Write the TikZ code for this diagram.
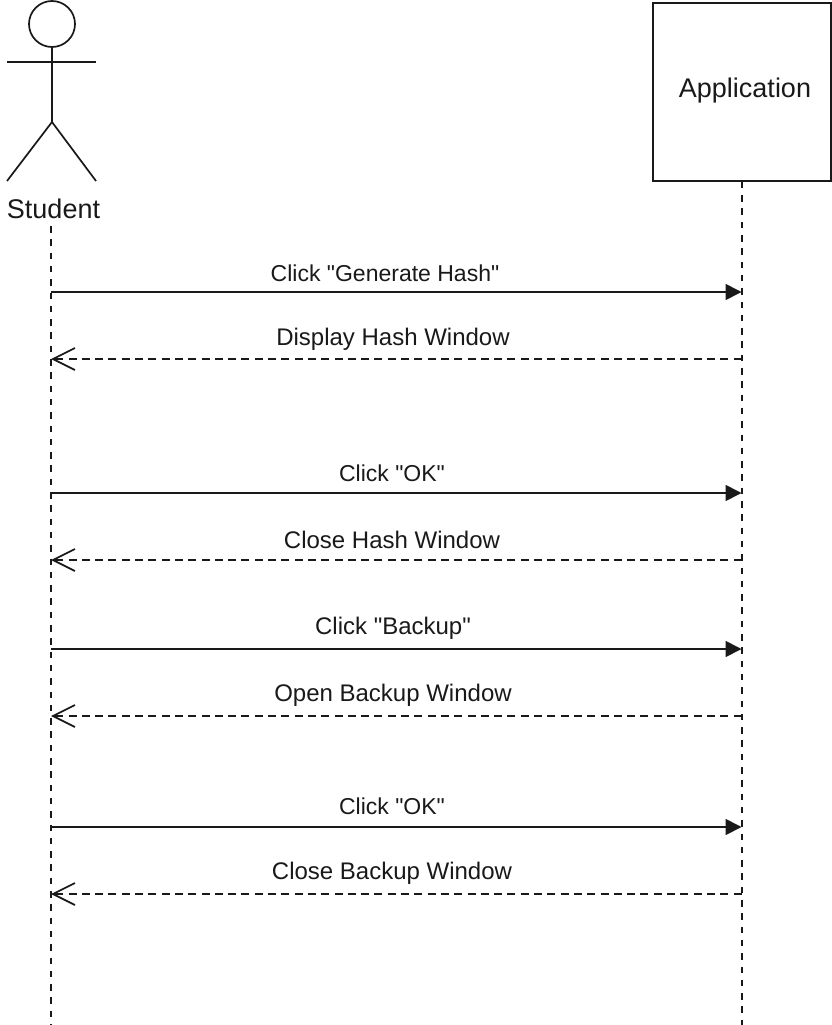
\documentclass[tikz,border=0pt]{standalone}
\usepackage{fontspec}
\setmainfont{Liberation Sans}[Ligatures=TeXOff]
\usetikzlibrary{arrows.meta}
\tikzset{
  x=1pt,y=-1pt,
  lw/.style={line width=1.7pt,black!90},
  lifeline/.style={lw,dash pattern=on 6.5pt off 6.8pt},
  syncmsg/.style={lw,-{Triangle[length=16pt,width=16pt]}},
  retmsg/.style={lw,dash pattern=on 8pt off 5.3pt,-{Straight Barb[length=22pt,width=22pt,line width=1.7pt]}},
  msglabel/.style={font=\fontsize{24}{28}\selectfont,text=black!90,inner sep=0pt,anchor=center},
  narrowlabel/.style={msglabel,font=\fontsize{23}{28}\selectfont},
  actorlabel/.style={font=\fontsize{27}{31}\selectfont,text=black!90,inner sep=0pt,anchor=center},
}
\begin{document}
\begin{tikzpicture}
\useasboundingbox (0,0) rectangle (832,1025);
% actor
\node[circle,draw,lw,minimum size=46pt,inner sep=0pt] (head) at (52,24) {};
\coordinate (hip) at (52,122);
\coordinate (armL) at (7,62);
\coordinate (armR) at (96,62);
\coordinate (footL) at (7,181);
\coordinate (footR) at (96,181);
\draw[lw] (head.south) -- (hip);
\draw[lw] (armL) -- (armR);
\draw[lw] (footL) -- (hip) -- (footR);
\node[actorlabel] (student) at (53.5,209) {Student};
% application
\node[draw,lw,minimum size=178pt,inner sep=0pt] (app) at (742,92) {};
\node[actorlabel] (applabel) at (745,91) {Application};
% lifelines
\coordinate (sTop) at (51,226);
\coordinate (sBot) at (51,1025);
\coordinate (aBot) at (742,1025);
\draw[lifeline] (sTop) -- (sBot);
\draw[lifeline] (app.south -| aBot) -- (aBot);
% message anchors
\foreach \n/\y in {a/292,b/359,c/493,d/560,e/649,f/716,g/827,h/894}{
  \coordinate (s\n) at (51,\y);
  \coordinate (t\n) at (741.5,\y);
}
\draw[syncmsg] (sa) -- (ta);
\draw[retmsg] (tb) -- (sb);
\draw[syncmsg] (sc) -- (tc);
\draw[retmsg] (td) -- (sd);
\draw[syncmsg] (se) -- (te);
\draw[retmsg] (tf) -- (sf);
\draw[syncmsg] (sg) -- (tg);
\draw[retmsg] (th) -- (sh);
\node[narrowlabel] (la) at (385,273) {Click "Generate Hash"};
\node[msglabel] (lb) at (393,339) {Display Hash Window};
\node[narrowlabel] (lc) at (392,473) {Click "OK"};
\node[msglabel] (ld) at (392,540) {Close Hash Window};
\node[msglabel] (le) at (393,628) {Click "Backup"};
\node[msglabel] (lf) at (393,695) {Open Backup Window};
\node[narrowlabel] (lg) at (392,806) {Click "OK"};
\node[msglabel] (lh) at (392,873) {Close Backup Window};
\end{tikzpicture}
\end{document}
